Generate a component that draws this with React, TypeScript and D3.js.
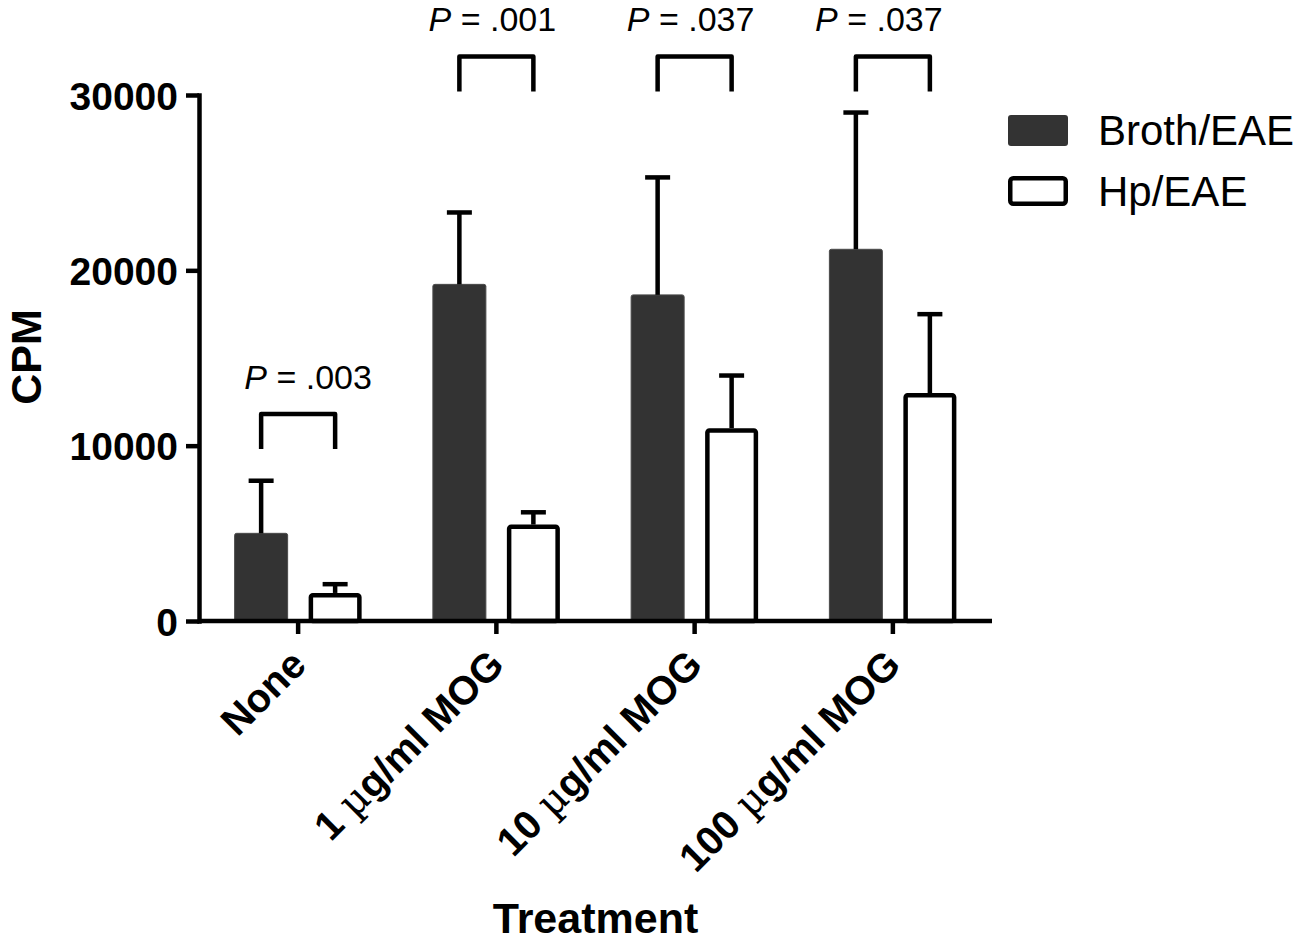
import React, { useEffect, useRef } from "react";
import * as d3 from "d3";

// treatments on the x axis
const categories = ["None", "1 µg/ml MOG", "10 µg/ml MOG", "100 µg/ml MOG"];
const seriesNames = ["Broth/EAE", "Hp/EAE"];

// mean CPM and upper end of the error bar
const brothMean = [5000, 19200, 18600, 21200];
const brothUpper = [8000, 23300, 25300, 29000];
const hpMean = [1600, 5500, 11000, 13000];
const hpUpper = [2100, 6200, 14000, 17500];

// significance brackets (top of bracket, in CPM) and their labels
const pLabels = [".003", ".001", ".037", ".037"];
const bracketTop = [11800, 32200, 32200, 32200];

const yTicks = [0, 10000, 20000, 30000];

const FONT = "'Liberation Sans', Arial, Helvetica, sans-serif";

const App: React.FC = () => {
  const svgRef = useRef<SVGSVGElement | null>(null);

  useEffect(() => {
    if (!svgRef.current) return;
    const svg = d3.select(svgRef.current);
    svg.selectAll("*").remove();

    const width = 1306;
    const height = 943;
    const left = 199;
    const right = 992;
    const baseY = 621;
    const topY = 95;
    const axisW = 4.5;

    svg.attr("width", width).attr("height", height);

    const x = d3.scaleBand<string>().domain(categories).range([left, right]).padding(0);
    const y = d3.scaleLinear().domain([0, 30000]).range([baseY, topY]);

    const barW = 53;
    const offset = 37; // distance of each bar centre from the group centre
    const capW = 25;
    const pNudge = [10, -4, -4, -14]; // hand placement of the P labels

    const center = (c: string) => x(c)! + x.bandwidth() / 2;

    // --- bars ---
    const g = svg.append("g");

    // broth bars (filled)
    g.selectAll(".broth")
      .data(categories)
      .enter()
      .append("rect")
      .attr("class", "broth")
      .attr("x", (c) => center(c) - offset - barW / 2)
      .attr("y", (c, i) => y(brothMean[i]))
      .attr("width", barW)
      .attr("height", (c, i) => baseY - y(brothMean[i]))
      .attr("rx", 2)
      .attr("fill", "#333333")
      .attr("stroke", "#4a4a4a")
      .attr("stroke-width", 1);

    // hp bars (open)
    g.selectAll(".hp")
      .data(categories)
      .enter()
      .append("rect")
      .attr("class", "hp")
      .attr("x", (c) => center(c) + offset - barW / 2 + axisW / 2)
      .attr("y", (c, i) => y(hpMean[i]) + axisW / 2)
      .attr("width", barW - axisW)
      .attr("height", (c, i) => baseY - y(hpMean[i]) - axisW / 2)
      .attr("rx", 2)
      .attr("fill", "#ffffff")
      .attr("stroke", "#000")
      .attr("stroke-width", axisW);

    // --- error bars ---
    const errData = [
      ...categories.map((c, i) => ({ cx: center(c) - offset, lo: brothMean[i], hi: brothUpper[i] })),
      ...categories.map((c, i) => ({ cx: center(c) + offset, lo: hpMean[i], hi: hpUpper[i] })),
    ];
    const err = g.selectAll(".err").data(errData).enter().append("g").attr("class", "err");
    err
      .append("line")
      .attr("x1", (d) => d.cx)
      .attr("x2", (d) => d.cx)
      .attr("y1", (d) => y(d.lo))
      .attr("y2", (d) => y(d.hi))
      .attr("stroke", "#000")
      .attr("stroke-width", axisW);
    err
      .append("line")
      .attr("x1", (d) => d.cx - capW / 2)
      .attr("x2", (d) => d.cx + capW / 2)
      .attr("y1", (d) => y(d.hi))
      .attr("y2", (d) => y(d.hi))
      .attr("stroke", "#000")
      .attr("stroke-width", axisW);

    // --- y axis ---
    const yAxis = svg
      .append("g")
      .attr("transform", `translate(${left},0)`)
      .call(d3.axisLeft(y).tickValues(yTicks).tickSize(13).tickSizeOuter(0).tickPadding(8).tickFormat(d3.format("d")));
    yAxis.select(".domain").attr("stroke-width", axisW).attr("stroke-linecap", "square");
    yAxis.selectAll(".tick line").attr("stroke-width", axisW);
    yAxis
      .selectAll(".tick text")
      .attr("font-family", FONT)
      .attr("font-size", 39)
      .attr("font-weight", "bold")
      .attr("fill", "#000")
      .attr("dy", "0.36em");

    // --- x axis ---
    svg
      .append("line")
      .attr("x1", left)
      .attr("x2", right)
      .attr("y1", baseY)
      .attr("y2", baseY)
      .attr("stroke", "#000")
      .attr("stroke-width", axisW);
    svg
      .selectAll(".xtick")
      .data(categories)
      .enter()
      .append("line")
      .attr("x1", (c) => center(c))
      .attr("x2", (c) => center(c))
      .attr("y1", baseY)
      .attr("y2", baseY + 13)
      .attr("stroke", "#000")
      .attr("stroke-width", axisW);

    const xl = svg
      .selectAll(".xlabel")
      .data(categories)
      .enter()
      .append("text")
      .attr("class", "xlabel")
      .attr("transform", (c) => `translate(${center(c) + 10},${baseY + 46}) rotate(-45)`)
      .attr("text-anchor", "end")
      .attr("font-family", FONT)
      .attr("font-size", 40)
      .attr("font-weight", "bold")
      .attr("fill", "#000");
    xl.each(function (c) {
      const t = d3.select(this);
      const parts = c.split("µ");
      t.append("tspan").text(parts[0]);
      if (parts.length > 1) {
        t.append("tspan").attr("font-weight", "normal").attr("font-family", "'DejaVu Serif', serif").text("µ");
        t.append("tspan").text(parts[1]);
      }
    });

    // axis titles
    svg
      .append("text")
      .attr("x", (left + right) / 2)
      .attr("y", 933)
      .attr("text-anchor", "middle")
      .attr("font-family", FONT)
      .attr("font-size", 43)
      .attr("font-weight", "bold")
      .text("Treatment");
    svg
      .append("text")
      .attr("transform", `translate(41,357) rotate(-90)`)
      .attr("text-anchor", "middle")
      .attr("font-family", FONT)
      .attr("font-size", 43)
      .attr("font-weight", "bold")
      .text("CPM");

    // --- significance brackets ---
    const br = svg.selectAll(".br").data(categories).enter().append("g");
    br.append("path")
      .attr("d", (c, i) => {
        const x1 = center(c) - offset;
        const x2 = center(c) + offset;
        const yt = y(bracketTop[i]);
        return `M${x1},${yt + 35} V${yt} H${x2} V${yt + 35}`;
      })
      .attr("fill", "none")
      .attr("stroke", "#000")
      .attr("stroke-width", axisW)
      .attr("stroke-linejoin", "round");
    const pt = br
      .append("text")
      .attr("x", (c, i) => center(c) + pNudge[i])
      .attr("y", (c, i) => y(bracketTop[i]) - 25)
      .attr("text-anchor", "middle")
      .attr("font-family", FONT)
      .attr("font-size", 34)
      .attr("fill", "#000");
    pt.append("tspan").attr("font-style", "italic").text("P");
    pt.append("tspan").text((c, i) => ` = ${pLabels[i]}`);

    // --- legend ---
    const lg = svg.append("g").attr("transform", "translate(1008,115)");
    lg.append("rect")
      .attr("x", 0)
      .attr("y", 0)
      .attr("width", 60)
      .attr("height", 31)
      .attr("rx", 3)
      .attr("fill", "#333333");
    lg.append("rect")
      .attr("x", axisW / 2)
      .attr("y", 61 + axisW / 2)
      .attr("width", 60 - axisW)
      .attr("height", 30 - axisW)
      .attr("rx", 3)
      .attr("fill", "#fff")
      .attr("stroke", "#000")
      .attr("stroke-width", axisW);
    lg.selectAll(".lt")
      .data(seriesNames)
      .enter()
      .append("text")
      .attr("x", 90)
      .attr("y", (d, i) => 30 + i * 61)
      .attr("font-family", FONT)
      .attr("font-size", 42)
      .attr("fill", "#000")
      .text((d) => d);
  }, []);

  return (
    <svg
      ref={svgRef}
      style={{ position: "absolute", left: 0, top: 0, background: "#fff", display: "block" }}
    ></svg>
  );
};

export default App;
